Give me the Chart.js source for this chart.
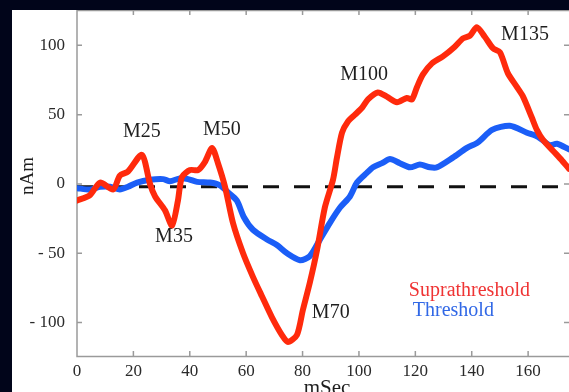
<!DOCTYPE html>
<html>
<head>
<meta charset="utf-8">
<script src="https://cdn.jsdelivr.net/npm/chart.js@4/dist/chart.umd.min.js"></script>
<style>
  html, body { margin: 0; padding: 0; background: #01051a; width: 569px; height: 392px; overflow: hidden; }
  #panel { position: absolute; left: 12px; top: 10px; width: 557px; height: 382px; background: #ffffff; }
</style>
</head>
<body>
<div id="panel"><canvas id="erfChart" width="557" height="382"></canvas></div>
<script>
// Suprathreshold response (red)
const redMs  = [0, 4.6, 8.2, 12.8, 15.2, 18.1, 23.0, 25.9, 27.7, 31.2, 33.7, 35.8, 37.2, 40.1, 42.9, 45.4, 47.9,
                50.0, 52.5, 55.3, 58.9, 62.4, 65.6, 69.1, 72.7, 74.8, 78.0, 80.1, 82.6, 85.1, 87.9, 90.8, 92.2,
                94.0, 96.1, 98.6, 101.1, 103.2, 106.7, 109.9, 113.5, 117.0, 118.8, 120.6, 122.7, 125.9, 129.8,
                134.0, 136.9, 139.4, 141.8, 144.7, 147.5, 150.0, 152.8, 156.0, 158.2, 161.3, 163.1, 165.2, 168.8,
                172.0, 174.5];
const redNam = [-12, -8, 1, -4, 6, 9, 21, 0, -9, -19, -30, -12, 5, 10, 10, 16, 26,
                15, -2, -28, -50, -67, -81, -96, -109, -114, -109, -91, -71, -48, -17, 3, 19,
                37, 45, 50, 55, 61, 66, 63, 59, 62, 61, 70, 79, 87, 92,
                99, 105, 107, 113, 106, 98, 95, 80, 70, 63, 48, 39, 32, 24,
                17, 11];

// Threshold response (blue)
const blueMs  = [0, 4.6, 8.2, 11.7, 15.2, 18.1, 21.3, 25.9, 30.5, 33.0, 36.5, 39.4, 42.6, 47.2, 50.7, 53.5,
                 56.7, 59.2, 62.4, 67.4, 70.9, 74.5, 79.1, 82.6, 86.2, 89.7, 93.3, 96.8, 99.3, 102.8, 105.0,
                 108.2, 111.0, 114.5, 118.1, 121.6, 125.2, 127.7, 133.3, 138.3, 142.2, 147.2, 153.5, 159.6,
                 163.5, 167.7, 170.2, 174.5];
const blueNam = [-3, -4, -2, -2, -4, -2, 1, 3, 3.5, 2, 4, 3.5, 1.5, 1, -1, -6,
                 -12, -24, -33, -40, -44, -50, -55, -52, -40, -28, -17, -9, 1, 8, 12,
                 15, 18, 15, 12, 14, 12, 12, 19, 26, 30, 39, 42, 37,
                 34, 28, 29, 25];

// dashed baseline
const baselineMs  = [0, 174.5];
const baselineNam = [-2, -2];

// component labels
const peakNames = ["M25", "M35", "M50", "M70", "M100", "M135"];
const peakMs    = [23.0, 34.4, 51.4, 90.0, 101.8, 158.9];
const peakNam   = [37.5, -38, 39, -93, 79, 107.5];

// in-plot legend
const legendNames  = ["Suprathreshold", "Threshold"];
const legendColors = ["#ef3434", "#3168e6"];
const legendMs     = [117.7, 119.1];
const legendNam    = [-77, -91.6];

const xTicks = [0, 20, 40, 60, 80, 100, 120, 140, 160];
const yTicks = [-100, -50, 0, 50, 100];

const SERIF = "'Liberation Serif', 'Times New Roman', serif";
const AXIS_GRAY = "#9a9a9a";

function toPoints(xs, ys) {
    return xs.map((x, i) => ({ x: x, y: ys[i] }));
}

// drop the label overhang padding so the plot box fills the panel
function noPadding(scale) {
    scale.paddingTop = 0;
    scale.paddingBottom = 0;
    scale.paddingLeft = 0;
    scale.paddingRight = 0;
}

// MATLAB-like box with inward ticks + axis titles
const framePlugin = {
    id: "frame",
    beforeDatasetsDraw(chart) {
        const ctx = chart.ctx;
        const a = chart.chartArea;
        const xs = chart.scales.x, ys = chart.scales.y;
        ctx.save();
        ctx.strokeStyle = AXIS_GRAY;
        ctx.lineWidth = 1.5;
        ctx.strokeRect(a.left, a.top + 0.5, a.right - a.left + 2, a.bottom - a.top);
        ctx.beginPath();
        xTicks.forEach(v => {
            const px = xs.getPixelForValue(v);
            if (v === 0) return;
            ctx.moveTo(px, a.bottom); ctx.lineTo(px, a.bottom - 5);
            ctx.moveTo(px, a.top); ctx.lineTo(px, a.top + 5);
        });
        yTicks.forEach(v => {
            const py = ys.getPixelForValue(v);
            ctx.moveTo(a.left, py); ctx.lineTo(a.left + 5, py);
            ctx.moveTo(a.right, py); ctx.lineTo(a.right - 5, py);
        });
        ctx.stroke();
        ctx.restore();
    },
    afterDraw(chart) {
        const ctx = chart.ctx;
        const xs = chart.scales.x, ys = chart.scales.y;
        ctx.save();
        ctx.fillStyle = "#1e1e1e";
        ctx.font = "20px " + SERIF;
        ctx.textAlign = "center";
        ctx.textBaseline = "middle";
        peakNames.forEach((name, i) => {
            ctx.fillText(name, xs.getPixelForValue(peakMs[i]), ys.getPixelForValue(peakNam[i]));
        });
        ctx.textAlign = "left";
        legendNames.forEach((name, i) => {
            ctx.fillStyle = legendColors[i];
            ctx.fillText(name, xs.getPixelForValue(legendMs[i]), ys.getPixelForValue(legendNam[i]));
        });
        // axis titles
        ctx.fillStyle = "#1e1e1e";
        ctx.textAlign = "center";
        ctx.textBaseline = "alphabetic";
        ctx.font = "21px " + SERIF;
        ctx.fillText("mSec", 315, 384);
        ctx.font = "19px " + SERIF;
        ctx.translate(21, 166);
        ctx.rotate(-Math.PI / 2);
        ctx.fillText("nAm", 0, 0);
        ctx.restore();
    }
};

const ctx = document.getElementById("erfChart").getContext("2d");

new Chart(ctx, {
    type: "line",
    data: {
        datasets: [
            {
                label: "Suprathreshold",
                data: toPoints(redMs, redNam),
                borderColor: "#ff2a0c",
                borderWidth: 6,
                tension: 0.25,
                pointRadius: 0,
                borderJoinStyle: "round",
                borderCapStyle: "round"
            },
            {
                label: "Threshold",
                data: toPoints(blueMs, blueNam),
                borderColor: "#1b5ef7",
                borderWidth: 6,
                tension: 0.25,
                pointRadius: 0,
                borderJoinStyle: "round",
                borderCapStyle: "round"
            },
            {
                label: "baseline",
                data: toPoints(baselineMs, baselineNam),
                borderColor: "#111111",
                borderWidth: 3,
                borderDash: [16, 15],
                pointRadius: 0
            }
        ]
    },
    options: {
        responsive: false,
        animation: false,
        layout: { padding: 0 },
        plugins: {
            legend: { display: false },
            tooltip: { enabled: false }
        },
        scales: {
            x: {
                type: "linear",
                min: 0,
                max: 174.5,
                grid: { display: false, drawTicks: false },
                border: { display: false },
                afterFit: (scale) => { scale.height = 36; noPadding(scale); },
                afterBuildTicks: (scale) => { scale.ticks = xTicks.map(v => ({ value: v })); },
                ticks: {
                    padding: 5,
                    color: "#2a2a2a",
                    font: { family: SERIF, size: 17 },
                    maxRotation: 0
                }
            },
            y: {
                min: -124.1,
                max: 125.5,
                grid: { display: false, drawTicks: false },
                border: { display: false },
                afterFit: (scale) => { scale.width = 65; noPadding(scale); },
                afterBuildTicks: (scale) => { scale.ticks = yTicks.map(v => ({ value: v })); },
                ticks: {
                    padding: 12,
                    color: "#2a2a2a",
                    font: { family: SERIF, size: 17 },
                    callback: (v) => v < 0 ? "- " + Math.abs(v) : String(v)
                }
            }
        }
    },
    plugins: [framePlugin]
});
</script>
</body>
</html>
